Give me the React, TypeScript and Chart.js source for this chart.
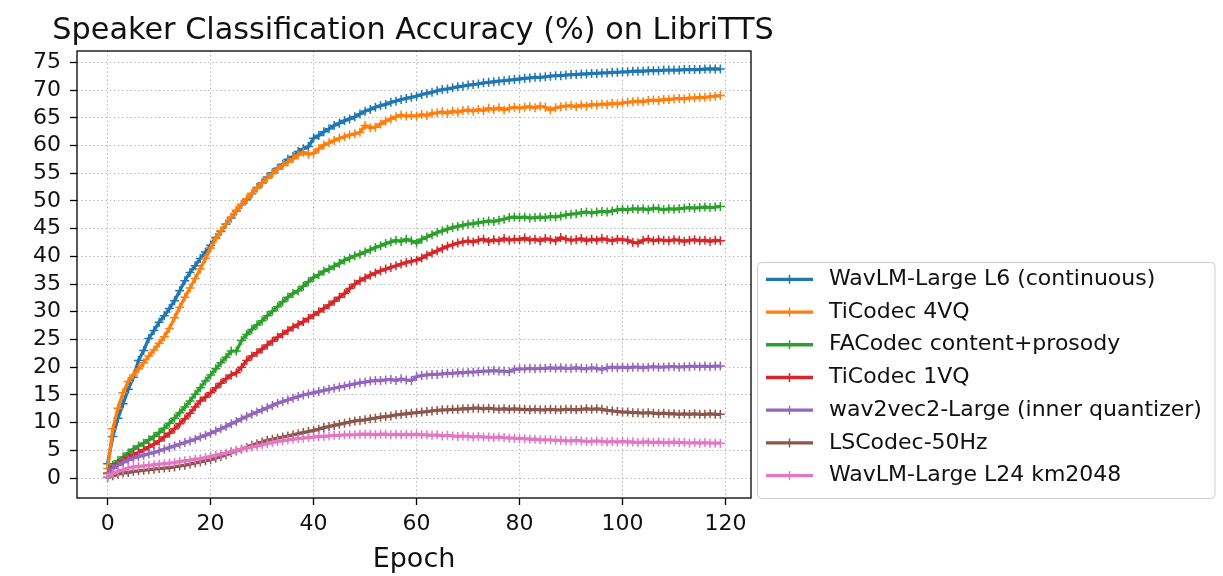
import { useEffect, useRef } from "react";
import { Chart, registerables } from "chart.js";

Chart.register(...registerables);

// accuracy per epoch (0..119)
const wavlmL6 = [
  2.6, 7.5, 10.8, 13.4, 16.0, 18.2, 21.2, 23.0, 25.2, 26.6,
  28.1, 29.3, 30.6, 32.0, 33.8, 35.6, 37.1, 38.3, 39.6, 40.8,
  42.0, 43.4, 44.5, 45.8, 46.9, 48.2, 49.3, 50.2, 51.3, 52.4,
  53.3, 54.3, 55.1, 55.9, 56.6, 57.5, 58.0, 58.9, 59.4, 59.8,
  61.3, 61.8, 62.5, 63.0, 63.6, 64.0, 64.5, 64.8, 65.2, 65.7,
  66.2, 66.5, 66.9, 67.2, 67.4, 67.8, 68.0, 68.3, 68.5, 68.7,
  68.9, 69.2, 69.4, 69.6, 69.9, 70.1, 70.2, 70.4, 70.6, 70.7,
  70.9, 71.0, 71.1, 71.3, 71.4, 71.5, 71.6, 71.7, 71.8, 71.9,
  72.0, 72.1, 72.2, 72.3, 72.3, 72.4, 72.5, 72.6, 72.6, 72.7,
  72.8, 72.8, 72.9, 72.9, 73.0, 73.0, 73.1, 73.1, 73.2, 73.2,
  73.3, 73.3, 73.4, 73.4, 73.4, 73.5, 73.5, 73.5, 73.6, 73.6,
  73.6, 73.6, 73.7, 73.7, 73.7, 73.7, 73.8, 73.8, 73.8, 73.8,
];
const ticodec4 = [
  1.7, 8.9, 12.6, 15.4, 17.4, 18.6, 19.7, 20.8, 22.0, 23.1,
  24.3, 25.5, 27.0, 28.9, 30.8, 32.6, 34.3, 36.0, 37.7, 39.6,
  41.5, 43.2, 44.6, 45.9, 47.1, 48.3, 49.4, 50.4, 51.4, 52.3,
  53.2, 54.1, 54.9, 55.7, 56.4, 57.0, 57.6, 58.3, 58.8, 58.4,
  58.6, 59.4, 60.1, 60.5, 60.9, 61.3, 61.6, 61.9, 62.1, 62.4,
  63.6, 63.2, 63.3, 63.9, 64.4, 64.8, 65.2, 65.5, 65.3, 65.4,
  65.3, 65.6, 65.4, 65.8, 65.9, 66.1, 65.8, 66.2, 66.0, 66.3,
  66.4, 66.2, 66.5, 66.3, 66.7, 66.5, 66.8, 66.4, 66.7, 66.9,
  66.7, 66.9, 67.0, 66.8, 67.1, 66.9, 66.4, 66.8, 67.0, 67.1,
  67.2, 67.0, 67.3, 67.1, 67.4, 67.3, 67.5, 67.4, 67.6, 67.5,
  67.7, 67.8, 67.9, 68.0, 67.9, 68.1, 68.2, 68.1, 68.3, 68.3,
  68.4, 68.5, 68.4, 68.6, 68.6, 68.7, 68.7, 68.8, 68.9, 69.0,
];
const facodec = [
  0.9, 2.3, 3.1, 3.8, 4.5, 5.2, 5.8, 6.3, 6.9, 7.5,
  8.2, 9.0, 9.9, 10.8, 11.8, 12.8, 13.9, 15.1, 16.3, 17.5,
  18.6, 19.7, 20.8, 21.8, 22.9, 22.9, 24.8, 25.9, 26.8, 27.6,
  28.4, 29.3, 30.1, 30.9, 31.8, 32.6, 33.3, 33.8, 34.6, 35.4,
  36.2, 36.7, 37.3, 37.7, 38.2, 38.7, 39.3, 39.7, 40.1, 40.4,
  40.8, 41.2, 41.6, 41.9, 42.3, 42.6, 42.9, 42.7, 43.1, 42.8,
  42.4, 43.1, 43.5, 43.9, 44.3, 44.6, 44.9, 45.2, 45.4, 45.6,
  45.8, 45.9, 46.1, 46.2, 46.4, 46.3, 46.5, 46.7, 47.0, 47.1,
  47.0, 47.1, 46.9, 47.0, 47.1, 47.0, 47.2, 47.1, 47.3, 47.5,
  47.6, 47.7, 47.9, 48.0, 47.8, 48.0, 48.1, 48.0, 48.2, 48.4,
  48.5, 48.4, 48.6, 48.5, 48.6, 48.4, 48.7, 48.6, 48.4, 48.6,
  48.5, 48.6, 48.7, 48.8, 48.7, 48.8, 48.9, 48.8, 48.9, 49.0,
];
const ticodec1 = [
  0.8, 2.0, 2.6, 3.1, 3.7, 4.2, 4.6, 5.1, 5.6, 6.1,
  6.7, 7.4, 8.1, 8.9, 9.8, 10.7, 11.7, 12.8, 13.9, 14.6,
  15.4, 16.3, 17.1, 17.9, 18.6, 19.0, 20.0, 21.2, 22.0, 22.6,
  23.3, 24.0, 24.7, 25.4, 26.0, 26.6, 27.2, 27.7, 28.2, 28.8,
  29.4, 30.0, 30.6, 31.2, 31.9, 32.6, 33.3, 34.2, 35.0, 35.6,
  36.1, 36.6, 37.0, 37.4, 37.7, 38.0, 38.3, 38.6, 38.9, 39.1,
  39.3, 39.7, 40.2, 40.6, 41.0, 41.4, 41.8, 42.1, 42.4, 42.6,
  42.8, 42.6, 42.9, 43.1, 42.7, 43.0, 42.8, 43.2, 42.9, 43.1,
  43.0, 43.3, 42.9, 43.1, 42.8, 43.2, 43.0, 42.8, 43.4, 43.1,
  42.9, 43.0, 43.2, 42.8, 43.1, 42.9, 43.2, 43.0, 42.8, 43.1,
  43.0, 42.9, 42.5, 42.4, 42.9, 43.1, 42.8, 43.0, 42.9, 42.8,
  43.0, 42.9, 42.7, 42.9, 43.0, 42.8, 42.9, 42.7, 42.9, 42.8,
];
const wav2vec2 = [
  0.8, 1.7, 2.3, 2.8, 3.2, 3.6, 3.9, 4.1, 4.4, 4.6,
  4.9, 5.2, 5.5, 5.8, 6.1, 6.4, 6.7, 7.0, 7.4, 7.7,
  8.1, 8.5, 8.9, 9.3, 9.8, 10.2, 10.7, 11.1, 11.5, 11.9,
  12.3, 12.7, 13.1, 13.5, 13.8, 14.1, 14.4, 14.7, 15.0, 15.2,
  15.4, 15.6, 15.8, 16.0, 16.2, 16.4, 16.6, 16.8, 17.0, 17.2,
  17.3, 17.5, 17.6, 17.6, 17.7, 17.8, 17.6, 17.9, 17.7, 17.6,
  18.3, 18.5, 18.6, 18.7, 18.7, 18.8, 18.9, 18.9, 19.0, 19.0,
  19.1, 19.1, 19.2, 19.3, 19.3, 19.4, 19.3, 19.3, 19.2, 19.6,
  19.7, 19.7, 19.8, 19.7, 19.8, 19.8, 19.9, 19.8, 19.9, 19.8,
  19.8, 19.9, 19.8, 19.7, 19.9, 19.8, 19.6, 19.9, 20.0, 19.9,
  20.0, 19.9, 20.0, 20.0, 19.9, 20.0, 20.1, 20.0, 20.0, 20.1,
  20.1, 20.0, 20.1, 20.1, 20.2, 20.1, 20.2, 20.1, 20.2, 20.2,
];
const lscodec = [
  0.1, 0.4, 0.7, 0.9, 1.0, 1.2, 1.3, 1.4, 1.5, 1.6,
  1.7, 1.8, 1.9, 2.0, 2.2, 2.3, 2.5, 2.7, 2.9, 3.1,
  3.3, 3.6, 3.9, 4.2, 4.6, 4.9, 5.2, 5.5, 5.9, 6.2,
  6.5, 6.8, 7.0, 7.2, 7.4, 7.6, 7.8, 8.0, 8.2, 8.4,
  8.6, 8.8, 9.1, 9.3, 9.5, 9.7, 9.9, 10.1, 10.3, 10.4,
  10.5, 10.7, 10.8, 11.0, 11.1, 11.2, 11.4, 11.5, 11.6, 11.7,
  11.8, 11.9, 12.0, 12.1, 12.2, 12.3, 12.3, 12.4, 12.4, 12.5,
  12.5, 12.6, 12.6, 12.5, 12.6, 12.5, 12.4, 12.5, 12.4, 12.5,
  12.4, 12.4, 12.3, 12.4, 12.3, 12.3, 12.4, 12.3, 12.3, 12.4,
  12.4, 12.3, 12.4, 12.5, 12.4, 12.5, 12.4, 12.2, 12.1, 12.0,
  11.9, 11.9, 11.8, 11.8, 11.7, 11.8, 11.7, 11.6, 11.7, 11.6,
  11.6, 11.5, 11.6, 11.5, 11.6, 11.5, 11.5, 11.6, 11.5, 11.5,
];
const wavlmL24 = [
  0.2, 0.8, 1.2, 1.5, 1.8, 2.0, 2.1, 2.2, 2.3, 2.4,
  2.5, 2.6, 2.7, 2.8, 3.0, 3.1, 3.2, 3.4, 3.5, 3.7,
  3.9, 4.1, 4.3, 4.5, 4.8, 5.0, 5.2, 5.4, 5.6, 5.8,
  6.0, 6.2, 6.4, 6.6, 6.7, 6.9, 7.0, 7.1, 7.2, 7.3,
  7.4, 7.5, 7.5, 7.6, 7.7, 7.7, 7.8, 7.8, 7.8, 7.9,
  7.9, 7.9, 7.8, 7.9, 7.9, 7.8, 7.9, 7.8, 7.9, 7.8,
  7.9, 7.8, 7.8, 7.7, 7.8, 7.6, 7.7, 7.6, 7.5, 7.6,
  7.5, 7.4, 7.5, 7.4, 7.4, 7.3, 7.4, 7.3, 7.2, 7.2,
  7.1, 7.1, 7.0, 7.0, 6.9, 6.9, 6.9, 6.8, 6.8, 6.7,
  6.7, 6.8, 6.7, 6.6, 6.6, 6.7, 6.6, 6.5, 6.6, 6.5,
  6.6, 6.5, 6.5, 6.4, 6.5, 6.5, 6.4, 6.5, 6.4, 6.4,
  6.5, 6.4, 6.4, 6.3, 6.4, 6.3, 6.4, 6.3, 6.3, 6.3,
];

const seriesNames = [
  "WavLM-Large L6 (continuous)",
  "TiCodec 4VQ",
  "FACodec content+prosody",
  "TiCodec 1VQ",
  "wav2vec2-Large (inner quantizer)",
  "LSCodec-50Hz",
  "WavLM-Large L24 km2048",
];
const seriesValues = [wavlmL6, ticodec4, facodec, ticodec1, wav2vec2, lscodec, wavlmL24];
const seriesColors = ["#1f77b4", "#ff7f0e", "#2ca02c", "#d62728", "#9467bd", "#8c564b", "#e377c2"];

const xTicks = [0, 20, 40, 60, 80, 100, 120];
const yTicks = [0, 5, 10, 15, 20, 25, 30, 35, 40, 45, 50, 55, 60, 65, 70, 75];

const titleText = "Speaker Classification Accuracy (%) on LibriTTS";
const xLabel = "Epoch";

const FONT = "'DejaVu Sans', sans-serif";
const TEXT = "#111";

// title, x label, frame and the boxed legend, matplotlib style
const decorPlugin = {
  id: "decor",
  afterDraw(chart: Chart) {
    const { ctx, chartArea: a } = chart;
    ctx.save();
    ctx.strokeStyle = "#000";
    ctx.lineWidth = 1.3;
    ctx.strokeRect(a.left, a.top, a.right - a.left, a.bottom - a.top);

    ctx.fillStyle = TEXT;
    ctx.textAlign = "center";
    ctx.textBaseline = "alphabetic";
    ctx.font = `30.3px ${FONT}`;
    ctx.fillText(titleText, 413, 39);
    ctx.font = `27px ${FONT}`;
    ctx.fillText(xLabel, (a.left + a.right) / 2, 567);

    // legend
    const bx = 757.5, by = 262.5, bw = 457.5, bh = 236;
    ctx.beginPath();
    ctx.roundRect(bx, by, bw, bh, 4);
    ctx.fillStyle = "rgba(255,255,255,0.8)";
    ctx.fill();
    ctx.strokeStyle = "#cccccc";
    ctx.lineWidth = 1;
    ctx.stroke();

    ctx.font = `22px ${FONT}`;
    ctx.textAlign = "left";
    ctx.textBaseline = "middle";
    seriesNames.forEach((name, i) => {
      const y = 279.3 + i * 32.73;
      ctx.strokeStyle = seriesColors[i];
      ctx.lineWidth = 3.3;
      ctx.beginPath();
      ctx.moveTo(766, y);
      ctx.lineTo(813, y);
      ctx.stroke();
      ctx.lineWidth = 1.5;
      ctx.beginPath();
      ctx.moveTo(789.5, y - 4.5);
      ctx.lineTo(789.5, y + 4.5);
      ctx.stroke();
      ctx.fillStyle = TEXT;
      ctx.fillText(name, 829, y);
    });
    ctx.restore();
  },
};

export default function App() {
  const canvasRef = useRef<HTMLCanvasElement | null>(null);

  useEffect(() => {
    const ctx = canvasRef.current?.getContext("2d");
    if (!ctx) return;

    const chart = new Chart(ctx, {
      type: "line",
      data: {
        datasets: seriesValues.map((vals, i) => ({
          label: seriesNames[i],
          data: vals.map((y, x) => ({ x, y })),
          borderColor: seriesColors[i],
          backgroundColor: seriesColors[i],
          borderWidth: 3.3,
          tension: 0,
          pointStyle: "cross",
          pointRadius: 4.5,
          pointBorderWidth: 1.5,
          pointBorderColor: seriesColors[i],
          pointHoverRadius: 0,
          order: seriesNames.length - i,
        })),
      },
      options: {
        responsive: false,
        animation: false,
        layout: { padding: { left: 0, top: 51, right: 472, bottom: 0 } },
        plugins: {
          legend: { display: false },
          title: { display: false },
          tooltip: { enabled: false },
        },
        scales: {
          x: {
            type: "linear",
            min: -5.95,
            max: 124.95,
            afterBuildTicks: (scale: any) => {
              scale.ticks = xTicks.map((value) => ({ value }));
            },
            afterFit: (scale: any) => {
              scale.height = 78;
            },
            grid: {
              color: "#b0b0b0",
              lineWidth: 1,
              tickLength: 7,
              tickColor: "#000",
              tickWidth: 1.3,
            },
            border: { display: false, dash: [1.3, 2.8] },
            ticks: {
              padding: 6,
              color: TEXT,
              font: { family: FONT, size: 22 },
              maxRotation: 0,
            },
          },
          y: {
            type: "linear",
            min: -3.6,
            max: 77.05,
            afterBuildTicks: (scale: any) => {
              scale.ticks = yTicks.map((value) => ({ value }));
            },
            afterFit: (scale: any) => {
              scale.width = 77;
            },
            grid: {
              color: "#b0b0b0",
              lineWidth: 1,
              tickLength: 7,
              tickColor: "#000",
              tickWidth: 1.3,
            },
            border: { display: false, dash: [1.3, 2.8] },
            ticks: {
              padding: 9,
              color: TEXT,
              font: { family: FONT, size: 22 },
            },
          },
        },
      },
      plugins: [decorPlugin],
    });

    return () => {
      chart.destroy();
    };
  }, []);

  return (
    <div style={{ position: "fixed", left: 0, top: 0, width: 1223, height: 576, background: "#fff" }}>
      <canvas ref={canvasRef} width={1223} height={576}></canvas>
    </div>
  );
}
